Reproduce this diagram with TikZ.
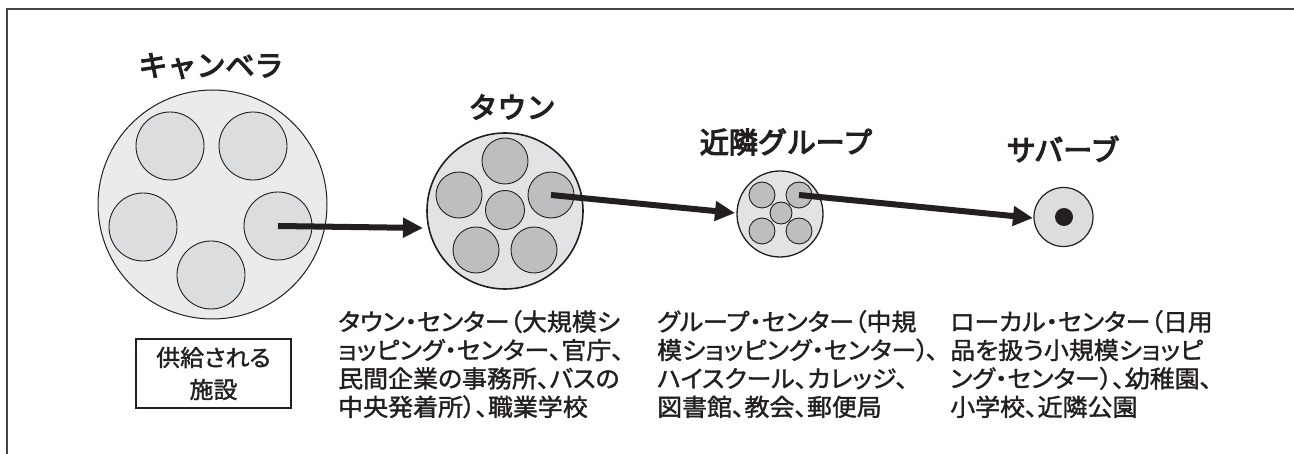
\documentclass[tikz,border=0pt]{standalone}
\usepackage{fontspec}
\newfontfamily\jp[FakeBold=4]{Noto Sans CJK JP}
\newfontfamily\jpbody[RawFeature=+palt, FakeBold=1.5, FakeStretch=1.04]{Noto Sans CJK JP}
\usetikzlibrary{arrows.meta}
\definecolor{frame}{HTML}{444444}
\definecolor{outA}{HTML}{EBEBEC}
\definecolor{inA}{HTML}{DCDDDF}
\definecolor{outB}{HTML}{E2E3E4}
\definecolor{inB}{HTML}{BDBEC0}
\definecolor{ink}{HTML}{231F20}
\tikzset{
  bigc/.style={circle, draw=ink, line width=#1, inner sep=0pt},
  smallc/.style={circle, draw=ink, line width=0.9pt, inner sep=0pt},
  flow/.style={draw=ink, line width=6pt, -{Triangle[length=20pt,width=19pt]}},
  title/.style={font=\jp\fontsize{29}{31}\selectfont, text=ink, inner sep=0pt},
  body/.style={font=\jpbody\fontsize{24}{28.4}\selectfont, text=ink, align=left, anchor=north west, inner sep=0pt},
}
\begin{document}
\begin{tikzpicture}[x=1pt,y=-1pt]
\useasboundingbox (0,0) rectangle (1294,454);
\draw[frame, line width=1.5pt] (7,9) rectangle (1310,470);

% Canberra
\node[bigc=1pt, fill=outA, minimum size=229pt] (canberra) at (212.5,204.5) {};
\node[smallc, fill=inA, minimum size=68pt] (a1) at (170,146) {};
\node[smallc, fill=inA, minimum size=68pt] (a2) at (253,146) {};
\node[smallc, fill=inA, minimum size=68pt] (a3) at (143,227) {};
\node[smallc, fill=inA, minimum size=68pt] (a4) at (278,226) {};
\node[smallc, fill=inA, minimum size=68pt] (a5) at (211,275) {};
\node[title] (tcan) at (211,66) {キャンベラ};

% Town
\node[bigc=1.6pt, fill=outB, minimum size=156pt] (town) at (505,211) {};
\node[smallc, fill=inB, minimum size=46pt] (b1) at (505,161) {};
\node[smallc, fill=inB, minimum size=46pt] (b2) at (459,195) {};
\node[smallc, fill=inB, minimum size=46pt] (b3) at (551,195) {};
\node[smallc, fill=inB, minimum size=39pt] (b4) at (505,210) {};
\node[smallc, fill=inB, minimum size=46pt] (b5) at (476,250) {};
\node[smallc, fill=inB, minimum size=46pt] (b6) at (534,250) {};
\node[title] (ttown) at (512,107) {タウン};

% Group
\node[bigc=1.3pt, fill=outB, minimum size=86pt] (group) at (780,214) {};
\node[smallc, fill=inB, minimum size=26pt] (g1) at (762,195) {};
\node[smallc, fill=inB, minimum size=26pt] (g2) at (799,195) {};
\node[smallc, fill=inB, minimum size=22pt] (g3) at (781,213) {};
\node[smallc, fill=inB, minimum size=26pt] (g4) at (762,231) {};
\node[smallc, fill=inB, minimum size=26pt] (g5) at (799,231) {};
\node[title] (tgroup) at (786,142) {近隣グループ};

% Suburb
\node[bigc=1.2pt, fill=inA, minimum size=59pt] (sub) at (1063.5,217) {};
\node[circle, fill=ink, inner sep=0pt, minimum size=18pt] (dot) at (1064,217) {};
\node[title] (tsub) at (1063,149) {サバーブ};

% arrows
\coordinate (tip1) at (423,228);
\coordinate (tip2) at (735,213);
\coordinate (tip3) at (1033,218);
\draw[flow] (a4.center) -- (tip1);
\draw[flow] (b3.center) -- (tip2);
\draw[flow] (g2.center) -- (tip3);

% legend box
\node[draw=ink, line width=1.2pt, minimum width=155pt, minimum height=69pt, inner sep=0pt,
      font=\jpbody\fontsize{23}{32}\selectfont, text=ink, align=center] (legend) at (213.5,373.5)
      {供給される\\施設};

% descriptions
\node[body] (dtown) at (338,310) {タウン・センター（大規模シ\\ョッピング・センター、官庁、\\民間企業の事務所、バスの\\中央発着所）、職業学校};
\node[body] (dgroup) at (657,310) {グループ・センター（中規\\模ショッピング・センター）\kern-3pt、\\ハイスクール、カレッジ、\\図書館、教会、郵便局};
\node[body] (dlocal) at (950,310) {ローカル・センター（日用\\品を扱う小規模ショッピ\\ング・センター）、幼稚園、\\小学校、近隣公園};
\end{tikzpicture}
\end{document}
